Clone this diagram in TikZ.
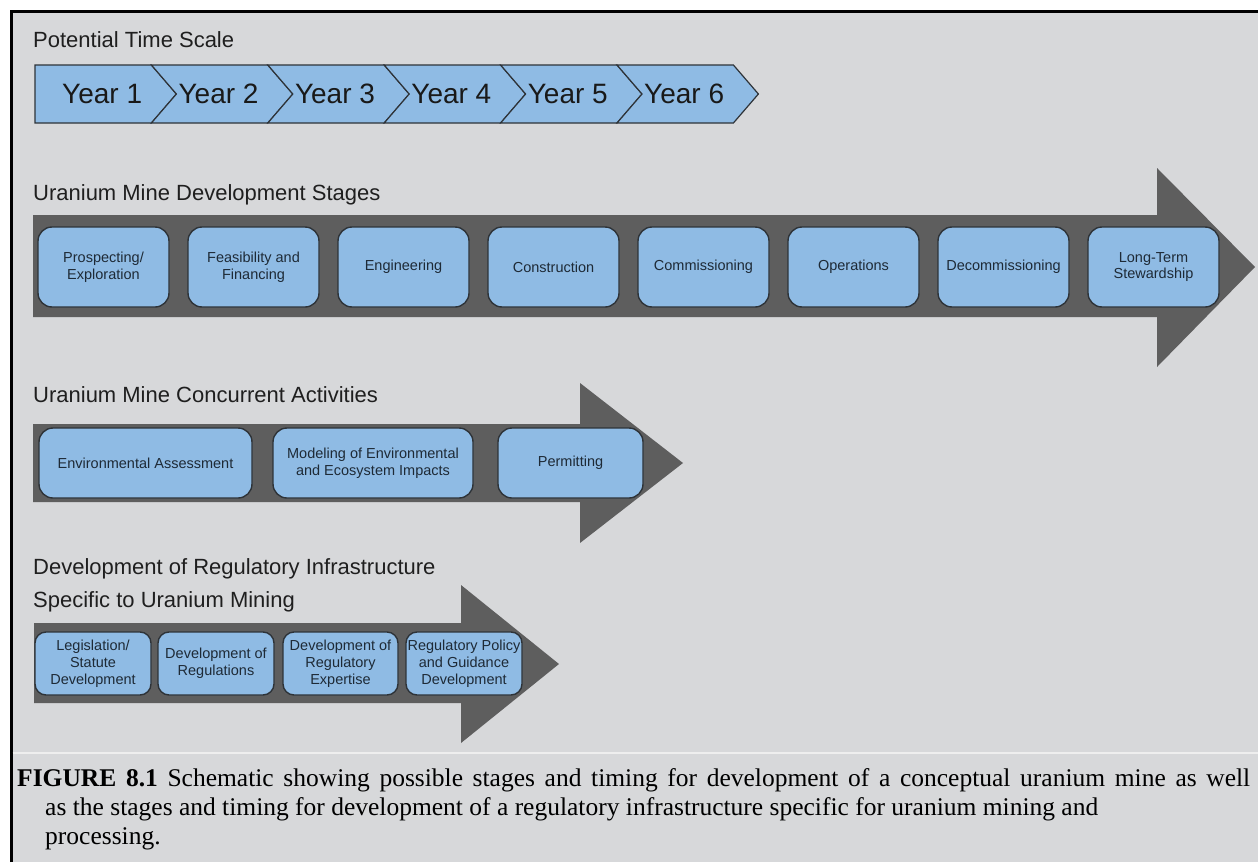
\documentclass[tikz,border=0pt]{standalone}
\usepackage{fontspec}
\setmainfont{Liberation Serif}
\newfontfamily\arial{Liberation Sans}
\definecolor{panel}{HTML}{D7D8DA}
\definecolor{chevblue}{HTML}{8FBBE4}
\definecolor{barcol}{HTML}{5E5E5E}
\definecolor{edgecol}{HTML}{2E3338}
\definecolor{boxtext}{HTML}{1E2A36}
\definecolor{sepcol}{HTML}{EEEEEE}
\begin{document}
\begin{tikzpicture}[x=1pt,y=-1pt,
  chev/.style={fill=chevblue,draw=edgecol,line width=1.2pt,line join=miter},
  yeartxt/.style={font=\arial\fontsize{28}{32}\selectfont,text=black!90,inner sep=0pt,anchor=west},
  titletxt/.style={font=\arial\fontsize{22}{26}\selectfont,text=black!88,inner sep=0pt,anchor=base west},
  bar/.style={fill=barcol},
  stagebox/.style={fill=chevblue,draw=edgecol,line width=1.4pt,inner sep=0pt,align=center,
     font=\arial\fontsize{14.5}{16.8}\selectfont,text=boxtext},
  captxt/.style={font=\fontsize{25.5}{29}\selectfont,inner sep=0pt,anchor=base west,text=black}]
\useasboundingbox (0,0) rectangle (1258,862);
\fill[white] (0,0) rectangle (1258,862);
\fill[panel] (10,10) rectangle (1258,862);
\draw[line width=3pt] (11,862) -- (11,11) -- (1258,11);
\draw[sepcol,line width=2pt] (12.5,753) -- (1258,753);

% ---- time scale
\node[titletxt] (t1) at (33,47) {Potential Time Scale};
\foreach \i in {0,...,5}{
  \pgfmathsetmacro{\a}{35+116.4*\i}
  \pgfmathsetmacro{\b}{\a+116.4}
  \pgfmathsetmacro{\bt}{\b+25}
  \pgfmathsetmacro{\at}{\a+25}
  \pgfmathtruncatemacro{\j}{\i+1}
  \ifnum\i=0
    \path[chev] (\a,65) -- (\b,65) -- (\bt,94) -- (\b,123) -- (\a,123) -- cycle;
  \else
    \path[chev] (\a,65) -- (\b,65) -- (\bt,94) -- (\b,123) -- (\a,123) -- (\at,94) -- cycle;
  \fi
  \pgfmathsetmacro{\tx}{\a+27}
  \node[yeartxt] (y\j) at (\tx,94) {Year \j};
}

% ---- development stages
\node[titletxt] (t2) at (33,200) {Uranium Mine Development Stages};
\path[bar] (33,215) -- (1157,215) -- (1157,168) -- (1255,267) -- (1157,367) -- (1157,317) -- (33,317) -- cycle;
\tikzset{s2/.style={stagebox,minimum width=131pt,minimum height=80pt,rounded corners=14pt}}
\node[s2] (s1) at (103.5,267) {Prospecting/\\Exploration};
\node[s2] (s2) at (253.5,267) {Feasibility and\\Financing};
\node[s2] (s3) at (403.5,267) {Engineering};
\node[s2] (s4) at (553.5,267) {Construction};
\node[s2] (s5) at (703.5,267) {Commissioning};
\node[s2] (s6) at (853.5,267) {Operations};
\node[s2] (s7) at (1003.5,267) {Decommissioning};
\node[s2] (s8) at (1153.5,267) {Long-Term\\Stewardship};

% ---- concurrent activities
\node[titletxt] (t3) at (33,402) {Uranium Mine Concurrent Activities};
\path[bar] (33,424) -- (580,424) -- (580,383) -- (683,463) -- (580,543) -- (580,502) -- (33,502) -- cycle;
\tikzset{s3/.style={stagebox,minimum height=70pt,rounded corners=14pt}}
\node[s3,minimum width=213pt] (c1) at (145.5,463) {Environmental Assessment};
\node[s3,minimum width=200pt] (c2) at (373,463) {Modeling of Environmental\\and Ecosystem Impacts};
\node[s3,minimum width=145pt] (c3) at (570.5,463) {Permitting};

% ---- regulatory infrastructure
\node[titletxt] (t4a) at (33,574) {Development of Regulatory Infrastructure};
\node[titletxt] (t4b) at (33,607) {Specific to Uranium Mining};
\path[bar] (34,623) -- (461,623) -- (461,585) -- (559,664) -- (461,743) -- (461,703) -- (34,703) -- cycle;
\tikzset{s4/.style={stagebox,minimum height=63pt,minimum width=116pt,rounded corners=11pt}}
\node[s4] (r1) at (93,663.5) {Legislation/\\Statute\\Development};
\node[s4] (r2) at (216,663.5) {Development of\\Regulations};
\node[s4,minimum width=115pt] (r3) at (340.5,663.5) {Development of\\Regulatory\\Expertise};
\node[s4] (r4) at (464,663.5) {Regulatory Policy\\and Guidance\\Development};

% ---- caption
\node[captxt] (cap1) at (17,786) {\makebox[1233pt][s]{\textbf{FIGURE 8.1} Schematic showing possible stages and timing for development of a conceptual uranium mine as well}};
\node[captxt] (cap2) at (45,815) {as the stages and timing for development of a regulatory infrastructure specific for uranium mining and};
\node[captxt] (cap3) at (45,844) {processing.};
\end{tikzpicture}
\end{document}
